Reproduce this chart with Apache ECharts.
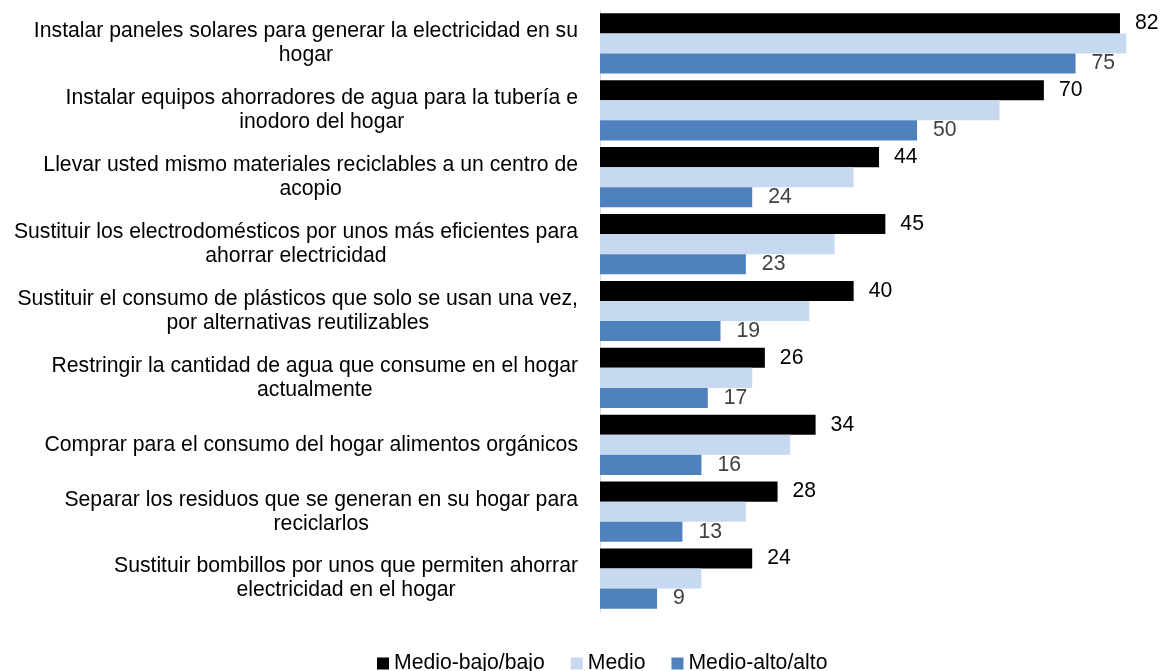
<!DOCTYPE html>
<html>
<head>
<meta charset="utf-8">
<script src="https://cdn.jsdelivr.net/npm/echarts@6/dist/echarts.min.js"></script>
<style>
  html, body { margin: 0; padding: 0; background: #ffffff; }
  #chart { width: 1161px; height: 671px; }
</style>
</head>
<body>
<div id="chart"></div>
<script>
// Acciones ambientales por nivel socioeconómico (%)
const categories = [
  'Instalar paneles solares para generar la electricidad en su\nhogar',
  'Instalar equipos ahorradores de agua para la tubería e\ninodoro del hogar',
  'Llevar usted mismo materiales reciclables a un centro de\nacopio',
  'Sustituir los electrodomésticos por unos más eficientes para\nahorrar electricidad',
  'Sustituir el consumo de plásticos que solo se usan una vez,\npor alternativas reutilizables',
  'Restringir la cantidad de agua que consume en el hogar\nactualmente',
  'Comprar para el consumo del hogar alimentos orgánicos',
  'Separar los residuos que se generan en su hogar para\nreciclarlos',
  'Sustituir bombillos por unos que permiten ahorrar\nelectricidad en el hogar'
];
const seriesNames = ['Medio-bajo/bajo', 'Medio', 'Medio-alto/alto'];
const medioBajo = [82, 70, 44, 45, 40, 26, 34, 28, 24];
const medio     = [83, 63, 40, 37, 33, 24, 30, 23, 16];
const medioAlto = [75, 50, 24, 23, 19, 17, 16, 13, 9];

const FONT = 'Liberation Sans, Arial, sans-serif';
const FS = 21.2;

const chart = echarts.init(document.getElementById('chart'), null, { renderer: 'canvas' });

chart.setOption({
  backgroundColor: '#ffffff',
  animation: false,
  textStyle: { fontFamily: FONT },
  grid: { left: 600, top: 10, height: 602, width: 539 },
  xAxis: {
    type: 'value', min: 0, max: 85,
    show: false
  },
  yAxis: {
    type: 'category',
    data: categories,
    inverse: true,
    axisLine: { show: true, lineStyle: { color: '#d9d9d9', width: 1 } },
    axisTick: { show: false },
    axisLabel: {
      margin: 22,
      color: '#000000',
      fontFamily: FONT,
      fontSize: FS,
      lineHeight: 24,
      // each line is centred inside the label block
      formatter: function (v) {
        return v.split('\n').map(function (l) { return '{c|' + l + '}'; }).join('\n');
      },
      rich: {
        c: { align: 'center', fontFamily: FONT, fontSize: FS, lineHeight: 24, color: '#000000' }
      }
    },
    splitLine: { show: false }
  },
  legend: {
    left: 372, top: 648,
    itemWidth: 12, itemHeight: 12, itemGap: 26,
    icon: 'rect',
    textStyle: { fontFamily: FONT, fontSize: FS, color: '#000000' },
    data: seriesNames
  },
  series: [
    {
      name: seriesNames[0], type: 'bar', data: medioBajo,
      barGap: '0%', barCategoryGap: '10%',
      itemStyle: { color: '#000000' },
      label: { show: true, position: 'right', distance: 15, color: '#000000', fontFamily: FONT, fontSize: FS }
    },
    {
      name: seriesNames[1], type: 'bar', data: medio,
      barGap: '0%', barCategoryGap: '10%',
      itemStyle: { color: '#c6d9f1' }
    },
    {
      name: seriesNames[2], type: 'bar', data: medioAlto,
      barGap: '0%', barCategoryGap: '10%',
      itemStyle: { color: '#4f81bd' },
      label: { show: true, position: 'right', distance: 16, color: '#404040', fontFamily: FONT, fontSize: FS }
    }
  ]
});
</script>
</body>
</html>
